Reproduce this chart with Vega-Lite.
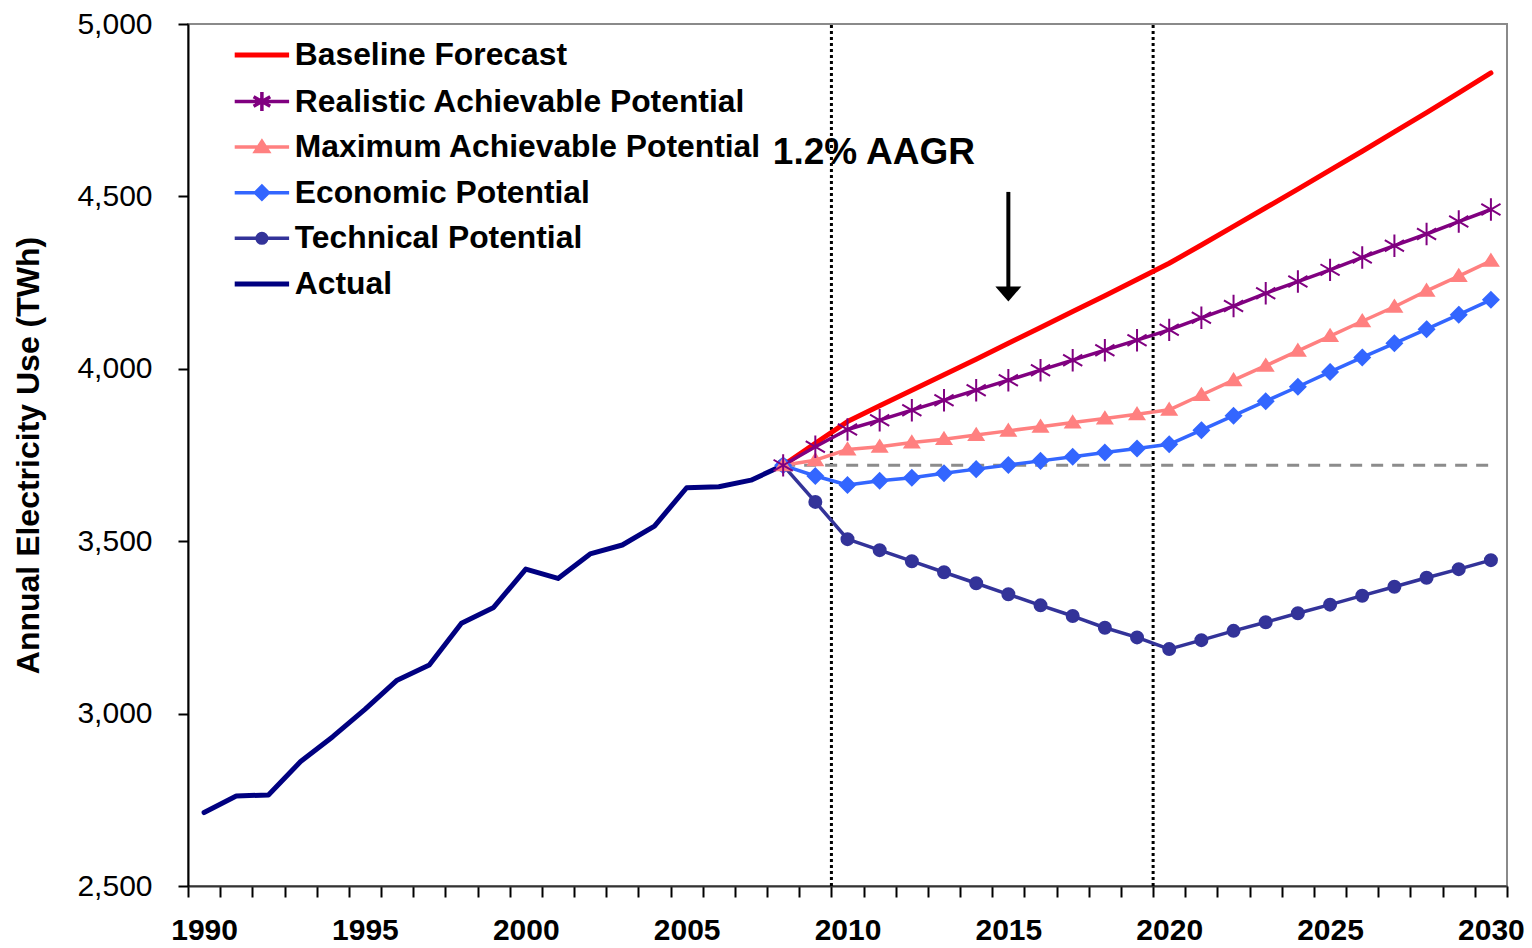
{
  "$schema": "https://vega.github.io/schema/vega-lite/v6.json",
  "autosize": "none",
  "width": 1319,
  "height": 862,
  "padding": {"left": 188, "top": 24, "right": 25, "bottom": 62},
  "background": "white",
  "config": {
    "view": {"stroke": "#8a8a8a", "strokeWidth": 2},
    "font": "Liberation Sans",
    "axis": {"labelFont": "Liberation Sans", "titleFont": "Liberation Sans", "labelColor": "#000", "titleColor": "#000", "domainColor": "#000", "tickColor": "#000", "domainWidth": 2, "tickWidth": 2, "grid": false}
  },
  "datasets": {
    "energy": [
      {"year": 1990, "Actual": 2713},
      {"year": 1991, "Actual": 2761},
      {"year": 1992, "Actual": 2764},
      {"year": 1993, "Actual": 2861},
      {"year": 1994, "Actual": 2933},
      {"year": 1995, "Actual": 3012},
      {"year": 1996, "Actual": 3097},
      {"year": 1997, "Actual": 3141},
      {"year": 1998, "Actual": 3262},
      {"year": 1999, "Actual": 3308},
      {"year": 2000, "Actual": 3419},
      {"year": 2001, "Actual": 3392},
      {"year": 2002, "Actual": 3463},
      {"year": 2003, "Actual": 3489},
      {"year": 2004, "Actual": 3544},
      {"year": 2005, "Actual": 3655},
      {"year": 2006, "Actual": 3658},
      {"year": 2007, "Actual": 3677},
      {"year": 2008, "Actual": 3720, "Baseline Forecast": 3720, "Technical Potential": 3720, "Economic Potential": 3720, "Maximum Achievable Potential": 3720, "Realistic Achievable Potential": 3720},
      {"year": 2009, "Baseline Forecast": 3784, "Technical Potential": 3614, "Economic Potential": 3689, "Maximum Achievable Potential": 3735, "Realistic Achievable Potential": 3774},
      {"year": 2010, "Baseline Forecast": 3847, "Technical Potential": 3506, "Economic Potential": 3663, "Maximum Achievable Potential": 3766, "Realistic Achievable Potential": 3824},
      {"year": 2011, "Baseline Forecast": 3893, "Technical Potential": 3474, "Economic Potential": 3675, "Maximum Achievable Potential": 3774, "Realistic Achievable Potential": 3851},
      {"year": 2012, "Baseline Forecast": 3938, "Technical Potential": 3442, "Economic Potential": 3684, "Maximum Achievable Potential": 3786, "Realistic Achievable Potential": 3880},
      {"year": 2013, "Baseline Forecast": 3983, "Technical Potential": 3410, "Economic Potential": 3697, "Maximum Achievable Potential": 3796, "Realistic Achievable Potential": 3909},
      {"year": 2014, "Baseline Forecast": 4028, "Technical Potential": 3378, "Economic Potential": 3709, "Maximum Achievable Potential": 3808, "Realistic Achievable Potential": 3938},
      {"year": 2015, "Baseline Forecast": 4074, "Technical Potential": 3346, "Economic Potential": 3721, "Maximum Achievable Potential": 3820, "Realistic Achievable Potential": 3967},
      {"year": 2016, "Baseline Forecast": 4120, "Technical Potential": 3314, "Economic Potential": 3733, "Maximum Achievable Potential": 3832, "Realistic Achievable Potential": 3996},
      {"year": 2017, "Baseline Forecast": 4166, "Technical Potential": 3283, "Economic Potential": 3745, "Maximum Achievable Potential": 3844, "Realistic Achievable Potential": 4025},
      {"year": 2018, "Baseline Forecast": 4212, "Technical Potential": 3249, "Economic Potential": 3757, "Maximum Achievable Potential": 3856, "Realistic Achievable Potential": 4054},
      {"year": 2019, "Baseline Forecast": 4259, "Technical Potential": 3221, "Economic Potential": 3769, "Maximum Achievable Potential": 3868, "Realistic Achievable Potential": 4083},
      {"year": 2020, "Baseline Forecast": 4306, "Technical Potential": 3187, "Economic Potential": 3781, "Maximum Achievable Potential": 3881, "Realistic Achievable Potential": 4113},
      {"year": 2021, "Baseline Forecast": 4359, "Technical Potential": 3213, "Economic Potential": 3822, "Maximum Achievable Potential": 3924, "Realistic Achievable Potential": 4148},
      {"year": 2022, "Baseline Forecast": 4413, "Technical Potential": 3240, "Economic Potential": 3864, "Maximum Achievable Potential": 3967, "Realistic Achievable Potential": 4182},
      {"year": 2023, "Baseline Forecast": 4467, "Technical Potential": 3265, "Economic Potential": 3906, "Maximum Achievable Potential": 4009, "Realistic Achievable Potential": 4219},
      {"year": 2024, "Baseline Forecast": 4521, "Technical Potential": 3291, "Economic Potential": 3948, "Maximum Achievable Potential": 4052, "Realistic Achievable Potential": 4253},
      {"year": 2025, "Baseline Forecast": 4576, "Technical Potential": 3316, "Economic Potential": 3991, "Maximum Achievable Potential": 4095, "Realistic Achievable Potential": 4287},
      {"year": 2026, "Baseline Forecast": 4631, "Technical Potential": 3342, "Economic Potential": 4033, "Maximum Achievable Potential": 4138, "Realistic Achievable Potential": 4323},
      {"year": 2027, "Baseline Forecast": 4687, "Technical Potential": 3368, "Economic Potential": 4074, "Maximum Achievable Potential": 4180, "Realistic Achievable Potential": 4357},
      {"year": 2028, "Baseline Forecast": 4743, "Technical Potential": 3394, "Economic Potential": 4115, "Maximum Achievable Potential": 4226, "Realistic Achievable Potential": 4391},
      {"year": 2029, "Baseline Forecast": 4800, "Technical Potential": 3419, "Economic Potential": 4157, "Maximum Achievable Potential": 4269, "Realistic Achievable Potential": 4427},
      {"year": 2030, "Baseline Forecast": 4858, "Technical Potential": 3445, "Economic Potential": 4200, "Maximum Achievable Potential": 4313, "Realistic Achievable Potential": 4462}
    ]
  },
  "encoding": {
    "x": {
      "field": "year", "type": "quantitative",
      "scale": {"domain": [1989.5, 2030.5], "nice": false, "zero": false},
      "axis": {
        "title": null,
        "values": [1989.5, 1990.5, 1991.5, 1992.5, 1993.5, 1994.5, 1995.5, 1996.5, 1997.5, 1998.5, 1999.5, 2000.5, 2001.5, 2002.5, 2003.5, 2004.5, 2005.5, 2006.5, 2007.5, 2008.5, 2009.5, 2010.5, 2011.5, 2012.5, 2013.5, 2014.5, 2015.5, 2016.5, 2017.5, 2018.5, 2019.5, 2020.5, 2021.5, 2022.5, 2023.5, 2024.5, 2025.5, 2026.5, 2027.5, 2028.5, 2029.5, 2030.5, 1990, 1995, 2000, 2005, 2010, 2015, 2020, 2025, 2030],
        "labelExpr": "datum.value % 5 == 0 ? format(datum.value, 'd') : ''",
        "tickOpacity": {"condition": {"test": "datum.value % 1 == 0", "value": 0}, "value": 1},
        "tickSize": 11,
        "labelPadding": 18,
        "labelFontSize": 30,
        "labelFontWeight": "bold",
        "labelOverlap": false,
        "labelFlush": false,
        "domainColor": "#333"
      }
    },
    "y": {
      "field": "value", "type": "quantitative",
      "scale": {"domain": [2500, 5000], "nice": false, "zero": false},
      "axis": {
        "values": [2500, 3000, 3500, 4000, 4500, 5000],
        "labelExpr": "format(datum.value, ',')",
        "labelFontSize": 30,
        "labelFontWeight": "normal",
        "labelPadding": 26,
        "tickSize": 10,
        "title": "Annual Electricity Use (TWh)",
        "titleFontSize": 32,
        "titleFontWeight": "bold",
        "titlePadding": 31
      }
    }
  },
  "layer": [
    {
      "data": {"values": [{"year": 2009.5, "value": 2500, "value2": 5000}, {"year": 2019.5, "value": 2500, "value2": 5000}]},
      "mark": {"type": "rule", "color": "#000", "strokeWidth": 3, "strokeDash": [3, 3]},
      "encoding": {"y2": {"field": "value2"}}
    },
    {
      "data": {"values": [{"year": 2008, "year2": 2030, "value": 3720}]},
      "mark": {"type": "rule", "color": "#8c8c8c", "strokeWidth": 3, "strokeDash": [12, 9]},
      "encoding": {"x2": {"field": "year2"}}
    },
    {
      "data": {"name": "energy"},
      "transform": [
        {"fold": ["Actual", "Baseline Forecast", "Technical Potential", "Economic Potential", "Maximum Achievable Potential", "Realistic Achievable Potential"], "as": ["series", "value"]},
        {"filter": "isValid(datum.value)"}
      ],
      "mark": {"type": "line", "strokeJoin": "round", "strokeCap": "round"},
      "encoding": {
        "color": {
          "field": "series", "type": "nominal",
          "scale": {
            "domain": ["Baseline Forecast", "Realistic Achievable Potential", "Maximum Achievable Potential", "Economic Potential", "Technical Potential", "Actual"],
            "range": ["#FF0000", "#800080", "#FF8080", "#3366FF", "#333399", "#000080"]
          },
          "legend": {
            "orient": "none",
            "legendX": 58,
            "legendY": 15,
            "title": null,
            "padding": 0,
            "labelFont": "Liberation Sans",
            "labelFontSize": 31.8,
            "labelFontWeight": "bold",
            "labelColor": "#000",
            "labelLimit": 800,
            "labelOffset": 17,
            "symbolSize": 256,
            "rowPadding": 12.6,
            "encode": {
              "symbols": {
                "update": {
                  "shape": {"signal": "datum.value == 'Realistic Achievable Potential' ? 'M-3.4,0L3.4,0M0,-1.2L0,1.2M-1.04,-0.6L1.04,0.6M-1.04,0.6L1.04,-0.6' : datum.value == 'Maximum Achievable Potential' ? 'M-3.4,0L3.4,0M0,-0.7L0.8,0.55L-0.8,0.55Z' : datum.value == 'Economic Potential' ? 'M-3.4,0L3.4,0M0,-0.8L0.8,0L0,0.8L-0.8,0Z' : datum.value == 'Technical Potential' ? 'M-3.4,0L3.4,0M-0.6,0A0.6,0.6 0 1,1 0.6,0A0.6,0.6 0 1,1 -0.6,0Z' : 'M-3.4,0L3.4,0'"},
                  "fill": {"scale": "color", "field": "value"},
                  "stroke": {"scale": "color", "field": "value"},
                  "strokeWidth": {"signal": "datum.value == 'Baseline Forecast' || datum.value == 'Actual' ? 5 : 3.5"},
                  "opacity": {"value": 1}
                }
              }
            }
          }
        },
        "strokeWidth": {
          "field": "series", "type": "nominal",
          "scale": {
            "type": "ordinal",
            "domain": ["Baseline Forecast", "Realistic Achievable Potential", "Maximum Achievable Potential", "Economic Potential", "Technical Potential", "Actual"],
            "range": [5, 3.5, 3.5, 3.5, 3.5, 5]
          },
          "legend": null
        }
      }
    },
    {
      "data": {"name": "energy"},
      "transform": [
        {"fold": ["Technical Potential", "Economic Potential", "Maximum Achievable Potential", "Realistic Achievable Potential"], "as": ["series", "value"]},
        {"filter": "isValid(datum.value)"}
      ],
      "mark": {"type": "point", "filled": true, "strokeWidth": 2, "opacity": 1, "size": 256},
      "encoding": {
        "shape": {
          "field": "series", "type": "nominal",
          "scale": {
            "domain": ["Realistic Achievable Potential", "Maximum Achievable Potential", "Economic Potential", "Technical Potential"],
            "range": ["M0,-1.4L0,1.4M-1.2,-0.7L1.2,0.7M-1.2,0.7L1.2,-0.7", "M0,-0.8L0.9,0.62L-0.9,0.62Z", "M0,-0.95L0.95,0L0,0.95L-0.95,0Z", "M-0.75,0A0.75,0.75 0 1,1 0.75,0A0.75,0.75 0 1,1 -0.75,0Z"]
          },
          "legend": null
        },
        "fill": {
          "field": "series", "type": "nominal",
          "scale": {
            "domain": ["Realistic Achievable Potential", "Maximum Achievable Potential", "Economic Potential", "Technical Potential"],
            "range": ["#800080", "#FF8080", "#3366FF", "#333399"]
          },
          "legend": null
        },
        "stroke": {
          "field": "series", "type": "nominal",
          "scale": {
            "domain": ["Realistic Achievable Potential", "Maximum Achievable Potential", "Economic Potential", "Technical Potential"],
            "range": ["#800080", "#FF8080", "#3366FF", "#333399"]
          },
          "legend": null
        }
      }
    },
    {
      "data": {"values": [{"year": 2007.68, "value": 4626, "label": "1.2% AAGR"}]},
      "mark": {"type": "text", "align": "left", "baseline": "middle", "fontSize": 37, "fontWeight": "bold", "font": "Liberation Sans", "color": "#000"},
      "encoding": {"text": {"field": "label"}}
    },
    {
      "data": {"values": [{"year": 2015, "value": 4513, "value2": 4235}]},
      "mark": {"type": "rule", "color": "#000", "strokeWidth": 4},
      "encoding": {"y2": {"field": "value2"}}
    },
    {
      "data": {"values": [{"year": 2015, "value": 4217}]},
      "mark": {"type": "point", "shape": "M-1,-0.58L1,-0.58L0,0.58Z", "size": 676, "filled": true, "color": "#000", "opacity": 1, "strokeWidth": 0}
    }
  ]
}
